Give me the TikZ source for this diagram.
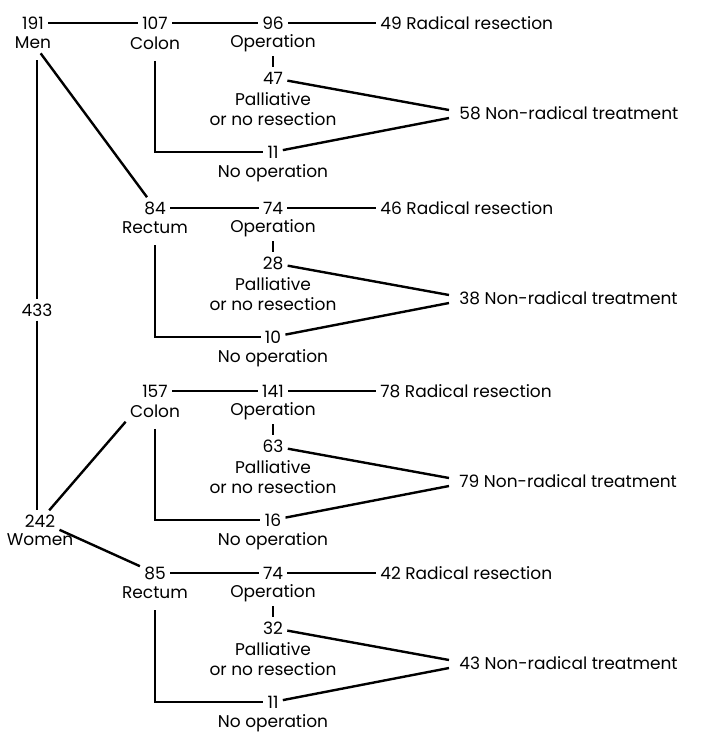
\documentclass[tikz,border=0pt]{standalone}
\usepackage{fontspec}
\setmainfont{Poppins}
\usetikzlibrary{calc}

\tikzset{
  txt/.style={inner sep=2pt,font=\fontsize{8.5}{10}\selectfont},
  lnk/.style={line width=1.2pt},
}

\begin{document}
\begin{tikzpicture}[x=0.5pt,y=-0.5pt,every node/.style={txt}]
\useasboundingbox (0,0) rectangle (702,733);
% totals
\node (m) at (33,23) {191};
\node (ml) at (33,43) {Men};
\node (t) at (37,310) {433};
\node (w) at (40,521) {242};
\node (wl) at (40,540) {Women};

% one block per site
\foreach \k/\y/\site/\a/\b/\c/\d/\e/\f in {1/23/Colon/107/96/49/47/11/58,
    2/208/Rectum/84/74/46/28/10/38, 3/391/Colon/157/141/78/63/16/79,
    4/573/Rectum/85/74/42/32/11/43}{
  \node (s\k) at (155,\y) {\a};
  \node (sl\k) at (155,\y+20) {\site};
  \node (o\k) at (273,\y) {\b};
  \node (ol\k) at (273,\y+20) {Operation};
  \node[anchor=west] (r\k) at (376,\y) {\c\ Radical resection};
  \node (p\k) at (273,\y+55) {\d};
  \node[align=center] (pl\k) at (273,\y+86) {Palliative\\or no resection};
  \node (n\k) at (273,\y+129) {\e};
  \node (nl\k) at (273,\y+150) {No operation};
  \node[anchor=west] (f\k) at (455,\y+90) {\f\ Non-radical treatment};
  \draw[lnk] (s\k) -- (o\k);
  \draw[lnk] (o\k) -- (r\k);
  \draw[lnk] (ol\k) -- (p\k);
  \draw[lnk] ([yshift=-3.5pt]sl\k.south) |- (n\k);
  \draw[lnk] (p\k) -- ([xshift=-3pt,yshift=1.5pt]f\k.west);
  \draw[lnk] (n\k) -- ([xshift=-3pt,yshift=-2.5pt]f\k.west);
}

\draw[lnk] (m) -- (s1);
\draw[lnk] ([yshift=-3.5pt]ml.south -| t) -- (t);
\draw[lnk] (t) -- (t |- w.north);
\draw[lnk] (ml) -- (s2);
\draw[lnk] (w) -- (sl3.south west);
\draw[lnk] (w) -- (s4);
\end{tikzpicture}
\end{document}
